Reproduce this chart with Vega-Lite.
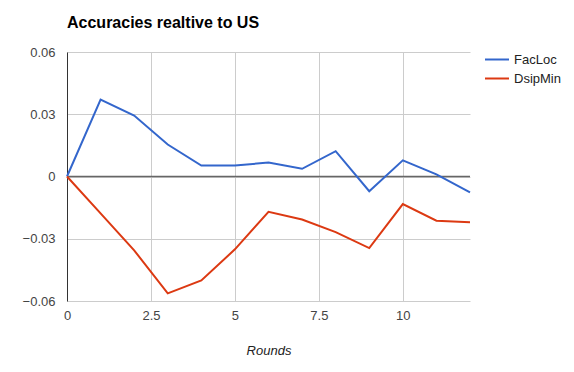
{
  "$schema": "https://vega.github.io/schema/vega-lite/v6.json",
  "autosize": {"type": "none"},
  "width": 403,
  "height": 249,
  "padding": {"left": 67, "top": 52, "right": 104, "bottom": 71},
  "background": "white",
  "config": {
    "view": {"stroke": null},
    "font": "Liberation Sans"
  },
  "title": {
    "text": "Accuracies realtive to US",
    "anchor": "start",
    "frame": "group",
    "font": "Liberation Sans",
    "fontSize": 16,
    "fontWeight": "bold",
    "color": "#000000",
    "offset": 15
  },
  "data": {
    "values": [
      {"round": 0, "series": "FacLoc", "value": 0},
      {"round": 1, "series": "FacLoc", "value": 0.0371},
      {"round": 2, "series": "FacLoc", "value": 0.0294},
      {"round": 3, "series": "FacLoc", "value": 0.0154},
      {"round": 4, "series": "FacLoc", "value": 0.0053},
      {"round": 5, "series": "FacLoc", "value": 0.0053},
      {"round": 6, "series": "FacLoc", "value": 0.0067},
      {"round": 7, "series": "FacLoc", "value": 0.0037},
      {"round": 8, "series": "FacLoc", "value": 0.0122},
      {"round": 9, "series": "FacLoc", "value": -0.0071},
      {"round": 10, "series": "FacLoc", "value": 0.0078},
      {"round": 11, "series": "FacLoc", "value": 0.001},
      {"round": 12, "series": "FacLoc", "value": -0.0076},
      {"round": 0, "series": "DsipMin", "value": 0},
      {"round": 1, "series": "DsipMin", "value": -0.0178},
      {"round": 2, "series": "DsipMin", "value": -0.0356},
      {"round": 3, "series": "DsipMin", "value": -0.0563},
      {"round": 4, "series": "DsipMin", "value": -0.0501},
      {"round": 5, "series": "DsipMin", "value": -0.0351},
      {"round": 6, "series": "DsipMin", "value": -0.017},
      {"round": 7, "series": "DsipMin", "value": -0.0207},
      {"round": 8, "series": "DsipMin", "value": -0.0268},
      {"round": 9, "series": "DsipMin", "value": -0.0345},
      {"round": 10, "series": "DsipMin", "value": -0.0133},
      {"round": 11, "series": "DsipMin", "value": -0.0213},
      {"round": 12, "series": "DsipMin", "value": -0.0221}
    ]
  },
  "layer": [
    {
      "data": {"values": [{"zero": 0}]},
      "mark": {"type": "rule", "color": "#666666", "strokeWidth": 1.5},
      "encoding": {
        "y": {"field": "zero", "type": "quantitative", "scale": {"domain": [-0.06, 0.06], "nice": false}}
      }
    },
    {
      "mark": {"type": "line", "strokeWidth": 2},
      "encoding": {
        "x": {
          "field": "round",
          "type": "quantitative",
          "scale": {"domain": [0, 12], "nice": false},
          "axis": {
            "title": "Rounds",
            "titleFont": "Liberation Sans",
            "titleFontSize": 13,
            "titleFontStyle": "italic",
            "titleFontWeight": "normal",
            "titleColor": "#222222",
            "titlePadding": 22,
            "values": [0, 2.5, 5, 7.5, 10],
            "format": ".1~f",
            "labelFontSize": 13,
            "labelColor": "#444444",
            "labelPadding": 8,
            "labelFlush": false,
            "ticks": false,
            "domain": false,
            "grid": true,
            "gridColor": "#cccccc",
            "gridWidth": 1
          }
        },
        "y": {
          "field": "value",
          "type": "quantitative",
          "scale": {"domain": [-0.06, 0.06], "nice": false},
          "axis": {
            "title": null,
            "values": [-0.06, -0.03, 0, 0.03, 0.06],
            "labelExpr": "datum.value == 0 ? '0' : format(datum.value, '.2f')",
            "labelFontSize": 13,
            "labelColor": "#444444",
            "labelPadding": 12,
            "labelFlush": false,
            "ticks": false,
            "domain": true,
            "domainColor": "#333333",
            "domainWidth": 1,
            "grid": true,
            "gridColor": "#cccccc",
            "gridWidth": 1
          }
        },
        "color": {
          "field": "series",
          "type": "nominal",
          "sort": ["FacLoc", "DsipMin"],
          "scale": {"domain": ["FacLoc", "DsipMin"], "range": ["#3366cc", "#dc3912"]},
          "legend": {
            "title": null,
            "orient": "none",
            "legendX": 417,
            "legendY": -2,
            "symbolType": "stroke",
            "symbolStrokeWidth": 2,
            "symbolSize": 576,
            "clipHeight": 19,
            "labelFontSize": 13,
            "labelColor": "#222222",
            "labelOffset": 4,
            "rowPadding": 0
          }
        }
      }
    }
  ]
}
